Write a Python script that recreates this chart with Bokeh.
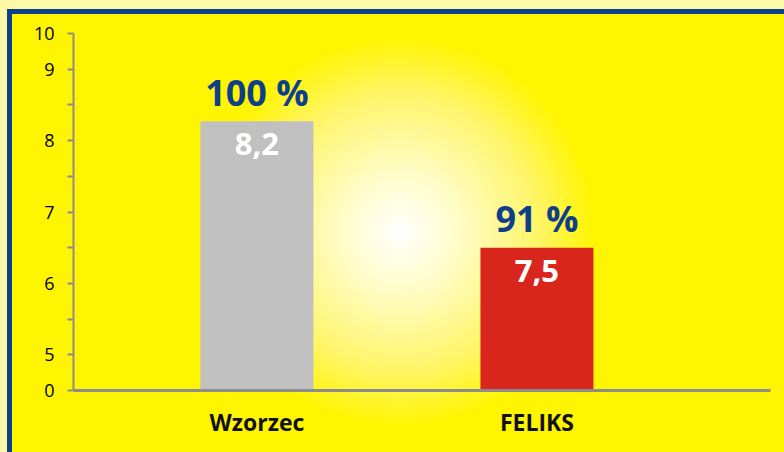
from bokeh.plotting import figure
from bokeh.models import Range1d, FixedTicker, ColumnDataSource
from bokeh.core.properties import value
from bokeh.embed import file_html
from bokeh.resources import INLINE

categories = ["Wzorzec", "FELIKS"]
bar_values = [8.27, 6.5]
value_labels = ["8,2", "7,5"]
percent_labels = ["100 %", "91 %"]
bar_colors = ["#C0C0C0", "#D9261C"]
y_tick_values = [0, 5, 5.5, 6, 6.5, 7, 7.5, 8, 8.5, 9, 10]
y_tick_labels = ["0", "5", "", "6", "", "7", "", "8", "", "9", "10"]


def to_display(v):
    # broken axis: 0-5 compressed, 5-9 linear, 9-10 compressed
    if v <= 5:
        return v * 0.1
    if v <= 9:
        return v - 4.5
    return 4.5 + (v - 9) * 0.5


xs = list(range(len(categories)))
src = ColumnDataSource(dict(
    x=xs,
    top=[to_display(v) for v in bar_values],
    color=bar_colors,
    vlab=value_labels,
    plab=percent_labels,
))

p = figure(width=784, height=452, output_backend="svg", toolbar_location=None,
           x_range=Range1d(-0.655, 1.834), y_range=Range1d(0, 5),
           min_border_left=73, min_border_right=14, min_border_top=33, min_border_bottom=62)

p.background_fill_color = None
p.border_fill_color = None
p.outline_line_color = None
p.grid.visible = False
p.styles = {
    "background": "radial-gradient(circle 195px at 400px 232px, #ffffff 0%, #fffcc8 30%, #fff56a 70%, #fff500 100%)",
    "background-color": "#fff500",
    "box-shadow": "inset 7px 9px 0 0 #FFF8A6, inset 12px 14px 0 0 #0D3F8A",
}

p.vbar(x="x", top="top", bottom=0, width=0.4036, color="color", line_color=None, source=src)

p.text(x="x", y="top", text="plab", source=src, text_align="center", text_baseline="alphabetic",
       y_offset=-29, text_font=value("Open Sans"), text_font_style="bold",
       text_font_size="36px", text_color="#0D3F8A")
p.text(x="x", y="top", text="vlab", source=src, text_align="center", text_baseline="alphabetic",
       y_offset=23, text_font=value("Open Sans"), text_font_style="bold",
       text_font_size="31px", text_color="#FFFFFF")

ax = p.xaxis[0]
ax.ticker = FixedTicker(ticks=xs)
ax.major_label_overrides = {i: c for i, c in zip(xs, categories)}
ax.major_tick_line_color = None
ax.minor_tick_line_color = None
ax.axis_line_color = "#8C8C8C"
ax.axis_line_width = 3
ax.major_label_standoff = 9
ax.major_label_text_font = "Open Sans"
ax.major_label_text_font_style = "bold"
ax.major_label_text_font_size = "23px"
ax.major_label_text_color = "#111111"

ay = p.yaxis[0]
disp_ticks = [to_display(v) for v in y_tick_values]
ay.ticker = FixedTicker(ticks=disp_ticks)
ay.major_label_overrides = {d: l for d, l in zip(disp_ticks, y_tick_labels)}
ay.minor_tick_line_color = None
ay.major_tick_in = 0
ay.major_tick_out = 6
ay.major_tick_line_color = "#8C8C8C"
ay.major_tick_line_width = 2
ay.axis_line_color = "#8C8C8C"
ay.axis_line_width = 2
ay.major_label_standoff = 13
ay.major_label_text_font = "Open Sans"
ay.major_label_text_font_size = "18px"
ay.major_label_text_color = "#000000"

open("out.html", "w").write(file_html(p, INLINE))
